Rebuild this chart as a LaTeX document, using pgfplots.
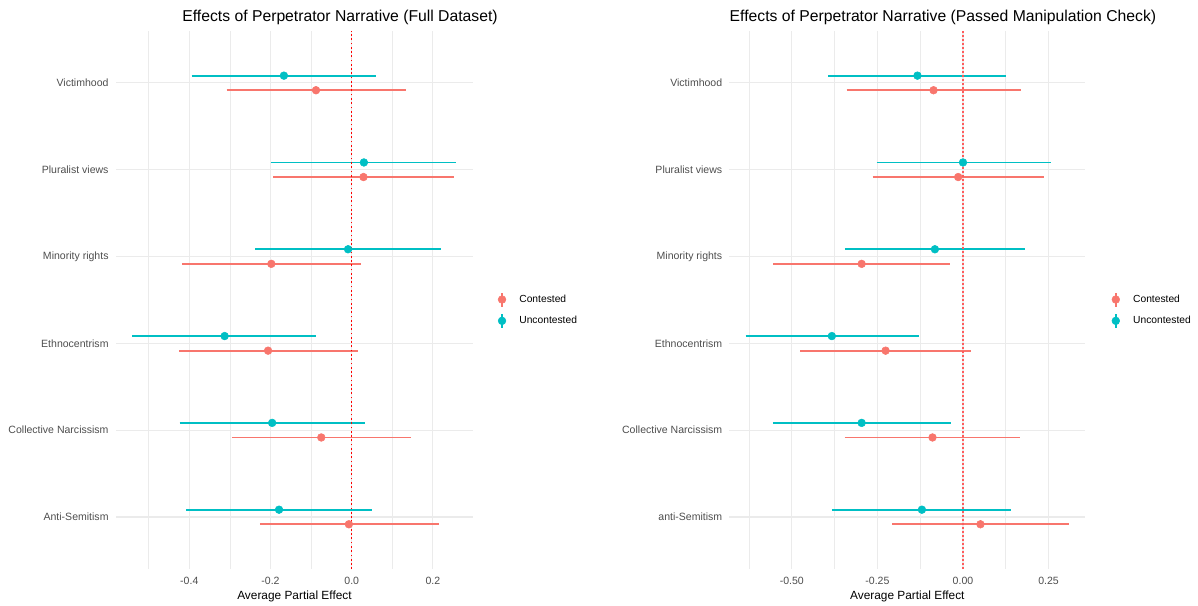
\documentclass[border=0pt]{standalone}
\usepackage{fontspec}
\setmainfont{Liberation Sans}
\usepackage{pgfplots}
\usepackage{pgfplotstable}
\pgfplotsset{compat=1.18}
\definecolor{con}{HTML}{F8766D}
\definecolor{unc}{HTML}{00BFC4}
\definecolor{gridc}{HTML}{EBEBEB}
\definecolor{tickc}{HTML}{4D4D4D}
\definecolor{vred}{HTML}{FF0000}
\definecolor{vred2}{HTML}{FF5C5C}

% y positions: 1 Anti-Semitism ... 6 Victimhood; Contested at -0.084, Uncontested at +0.084
% Full dataset, Contested: estimate and CI
\pgfplotstableread{
x y
-0.088 5.916
0.029 4.916
-0.198 3.916
-0.206 2.916
-0.075 1.916
-0.007 0.916
}\fullconpt
\pgfplotstableread{
x y
-0.308 5.916
0.133 5.916
nan nan
-0.193 4.916
0.251 4.916
nan nan
-0.418 3.916
0.023 3.916
nan nan
-0.425 2.916
0.015 2.916
nan nan
-0.295 1.916
0.146 1.916
nan nan
-0.226 0.916
0.215 0.916
}\fullconci
% Full dataset, Uncontested
\pgfplotstableread{
x y
-0.167 6.084
0.030 5.084
-0.009 4.084
-0.313 3.084
-0.196 2.084
-0.179 1.084
}\fulluncpt
\pgfplotstableread{
x y
-0.394 6.084
0.061 6.084
nan nan
-0.199 5.084
0.258 5.084
nan nan
-0.237 4.084
0.219 4.084
nan nan
-0.541 3.084
-0.087 3.084
nan nan
-0.424 2.084
0.033 2.084
nan nan
-0.407 1.084
0.049 1.084
}\fulluncci
% Passed check, Contested
\pgfplotstableread{
x y
-0.086 5.916
-0.014 4.916
-0.296 3.916
-0.226 2.916
-0.089 1.916
0.051 0.916
}\passconpt
\pgfplotstableread{
x y
-0.340 5.916
0.169 5.916
nan nan
-0.264 4.916
0.236 4.916
nan nan
-0.554 3.916
-0.038 3.916
nan nan
-0.475 2.916
0.023 2.916
nan nan
-0.346 1.916
0.167 1.916
nan nan
-0.206 0.916
0.309 0.916
}\passconci
% Passed check, Uncontested
\pgfplotstableread{
x y
-0.133 6.084
0.000 5.084
-0.082 4.084
-0.383 3.084
-0.296 2.084
-0.120 1.084
}\passuncpt
\pgfplotstableread{
x y
-0.393 6.084
0.127 6.084
nan nan
-0.252 5.084
0.256 5.084
nan nan
-0.345 4.084
0.180 4.084
nan nan
-0.635 3.084
-0.128 3.084
nan nan
-0.555 2.084
-0.036 2.084
nan nan
-0.383 1.084
0.141 1.084
}\passuncci

\pgfplotsset{
  mystyle/.style={
    scale only axis,
    height=403.65pt,
    ymin=0.4, ymax=6.6,
    ytick={1,2,3,4,5,6},
    axis line style={draw=none},
    major tick length=0pt, minor tick length=0pt,
    tick style={draw=none},
    grid=both,
    major grid style={color=gridc, line width=0.8pt},
    minor grid style={color=gridc, line width=0.45pt},
    tick label style={font=\fontsize{7.9}{9}\selectfont, color=tickc},
    yticklabel style={anchor=east, inner sep=0pt, xshift=-5.25pt},
    xticklabel style={anchor=base, inner sep=0pt, yshift=-11.4pt},
    xlabel={Average Partial Effect},
    xlabel style={at={(axis description cs:0.5,-0.0557)}, anchor=base, font=\fontsize{8.9}{10}\selectfont, inner sep=0pt},
    title style={font=\fontsize{11.8}{13}\selectfont, anchor=base west, inner sep=0pt, yshift=-6pt},
    clip=false,
    unbounded coords=jump,
    legend style={draw=none, fill=none, anchor=west, inner sep=0pt, outer sep=0pt,
      font=\fontsize{7.7}{9}\selectfont, row sep=4.3pt,
      nodes={inner sep=1.5pt}},
    legend cell align=left,
  },
  ptcon/.style={only marks, mark=*, mark size=2.9pt, color=con, mark options={draw=con, fill=con},
    legend image code/.code={
      \draw[line width=1.2pt, draw=con] (0pt,-5.25pt) -- (0pt,5.25pt);
      \fill[fill=con] (0pt,0pt) circle (2.9pt);
      \path[draw=none, fill=none] (-4pt,0pt) -- (11.5pt,0pt);}},
  ptunc/.style={only marks, mark=*, mark size=2.9pt, color=unc, mark options={draw=unc, fill=unc},
    legend image code/.code={
      \draw[line width=1.2pt, draw=unc] (0pt,-5.25pt) -- (0pt,5.25pt);
      \fill[fill=unc] (0pt,0pt) circle (2.9pt);
      \path[draw=none, fill=none] (-4pt,0pt) -- (11.5pt,0pt);}},
  cicon/.style={forget plot, no marks, draw=con, line width=1.35pt},
  ciunc/.style={forget plot, no marks, draw=unc, line width=1.35pt},
}

\begin{document}
\begin{tikzpicture}
\useasboundingbox (0,0) rectangle (898.5pt,454.5pt);
\begin{axis}[mystyle,
  at={(86.85pt,27.7pt)}, anchor=south west,
  width=268pt,
  xmin=-0.581, xmax=0.299,
  xtick={-0.4,-0.2,0,0.2},
  xticklabels={-0.4,-0.2,0.0,0.2},
  minor xtick={-0.5,-0.3,-0.1,0.1},
  yticklabels={Anti-Semitism,Collective Narcissism,Ethnocentrism,Minority rights,Pluralist views,Victimhood},
  title={Effects of Perpetrator Narrative (Full Dataset)},
  title style={at={(axis description cs:0.1855,1.0182)}},
  legend style={at={(axis description cs:1.066,0.481)}},
]
\addplot[cicon] table[x=x, y=y] {\fullconci};
\addplot[ciunc] table[x=x, y=y] {\fulluncci};
\addplot[ptcon] table[x=x, y=y] {\fullconpt};
\addlegendentry{Contested}
\addplot[ptunc] table[x=x, y=y] {\fulluncpt};
\addlegendentry{Uncontested}
\addplot[forget plot, no marks, draw=vred, line width=1.1pt, dash pattern=on 1.3pt off 1.9pt] coordinates {(0,0.4) (0,6.6)};
\end{axis}

\begin{axis}[mystyle,
  at={(547.1pt,27.7pt)}, anchor=south west,
  width=266.8pt,
  xmin=-0.682, xmax=0.357,
  xtick={-0.5,-0.25,0,0.25},
  xticklabels={-0.50,-0.25,0.00,0.25},
  minor xtick={-0.625,-0.375,-0.125,0.125},
  yticklabels={anti-Semitism,Collective Narcissism,Ethnocentrism,Minority rights,Pluralist views,Victimhood},
  title={Effects of Perpetrator Narrative (Passed Manipulation Check)},
  title style={at={(axis description cs:0,1.0182)}},
  legend style={at={(axis description cs:1.071,0.481)}},
]
\addplot[cicon] table[x=x, y=y] {\passconci};
\addplot[ciunc] table[x=x, y=y] {\passuncci};
\addplot[ptcon] table[x=x, y=y] {\passconpt};
\addlegendentry{Contested}
\addplot[ptunc] table[x=x, y=y] {\passuncpt};
\addlegendentry{Uncontested}
\addplot[forget plot, no marks, draw=vred2, line width=1pt, dash pattern=on 1.2pt off 1.8pt] coordinates {(0,0.4) (0,6.6)};
\end{axis}
\end{tikzpicture}
\end{document}
